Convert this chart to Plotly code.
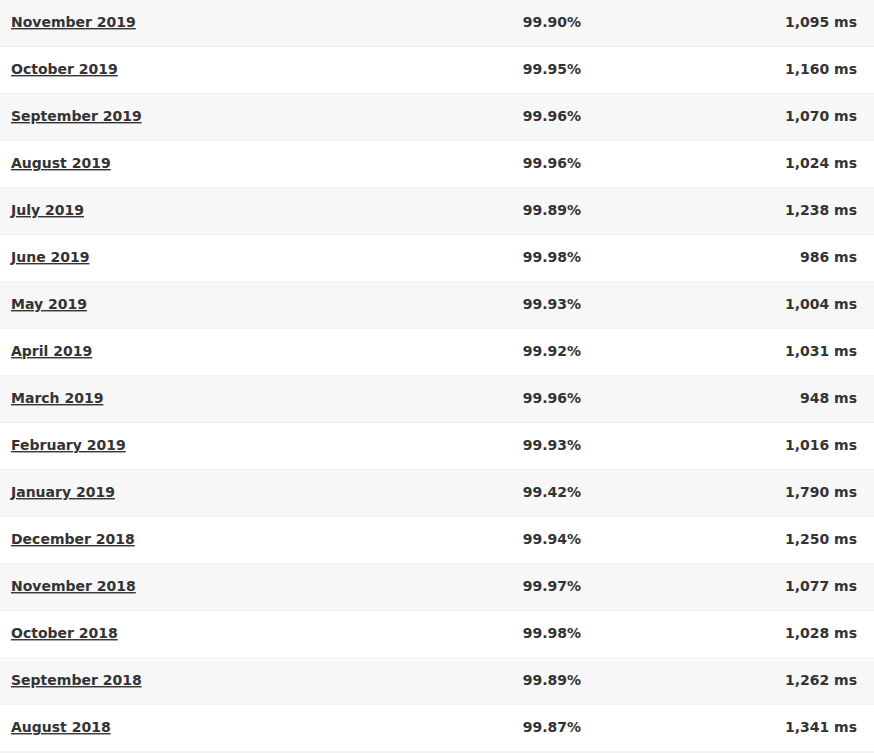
import plotly.graph_objects as go

months = ["November 2019","October 2019","September 2019","August 2019","July 2019","June 2019",
          "May 2019","April 2019","March 2019","February 2019","January 2019","December 2018",
          "November 2018","October 2018","September 2018","August 2018"]
uptime = [99.90,99.95,99.96,99.96,99.89,99.98,99.93,99.92,99.96,99.93,99.42,99.94,99.97,99.98,99.89,99.87]
resp_ms = [1095,1160,1070,1024,1238,986,1004,1031,948,1016,1790,1250,1077,1028,1262,1341]

n = len(months)
rows = list(range(n))
fig = go.Figure()
shapes = []
for i in rows:
    shapes.append(dict(type="rect", xref="x", yref="y", x0=0, x1=874, y0=i-0.5, y1=i+0.5,
                       fillcolor="#f7f7f7" if i % 2 == 0 else "#ffffff", line_width=0, layer="below"))
    shapes.append(dict(type="line", xref="x", yref="y", x0=0, x1=874, y0=i+0.5, y1=i+0.5,
                       line=dict(color="#e6e6e6", width=1), layer="below"))
font = dict(family="DejaVu Sans, Verdana", size=14, color="#333333")
fig.add_trace(go.Scatter(x=[11]*n, y=rows, mode="text", textposition="middle right",
                         text=[f"<b><u>{m}</u></b>" for m in months], textfont=font, hoverinfo="skip"))
fig.add_trace(go.Scatter(x=[581]*n, y=rows, mode="text", textposition="middle left",
                         text=[f"<b>{u:.2f}%</b>" for u in uptime], textfont=font, hoverinfo="skip"))
fig.add_trace(go.Scatter(x=[857]*n, y=rows, mode="text", textposition="middle left",
                         text=[f"<b>{r:,} ms</b>" for r in resp_ms], textfont=font, hoverinfo="skip"))
fig.update_layout(width=874, height=753, margin=dict(l=0, r=0, t=0, b=0), showlegend=False,
                  plot_bgcolor="white", paper_bgcolor="white", shapes=shapes,
                  xaxis=dict(range=[0, 874], visible=False, fixedrange=True),
                  yaxis=dict(range=[n-0.5+0.02, -0.5], visible=False, fixedrange=True))
fig.write_html("out.html", config={"displayModeBar": False},
               post_script="document.body.style.margin='0';document.body.style.overflow='hidden';")
